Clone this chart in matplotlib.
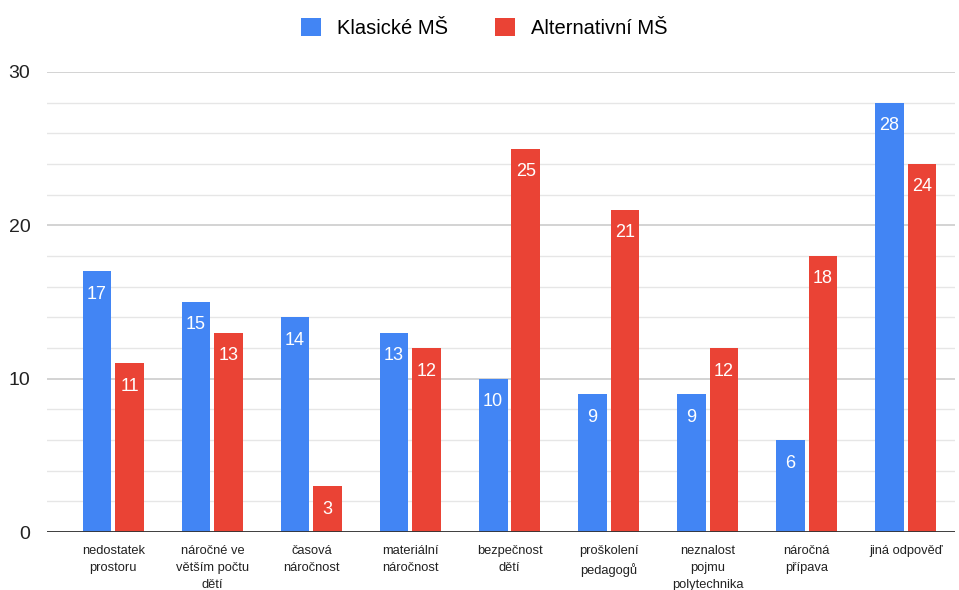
import numpy as np
import matplotlib.pyplot as plt
from matplotlib.ticker import MultipleLocator

plt.rcParams['font.family'] = ['Liberation Sans', 'DejaVu Sans']

categories = ["nedostatek\nprostoru", "náročné ve\nvětším počtu\ndětí", "časová\nnáročnost",
              "materiální\nnáročnost", "bezpečnost\ndětí", "proškolení\npedagogů",
              "neznalost\npojmu\npolytechnika", "náročná\npřípava", "jiná odpověď"]
klasicke = [17, 15, 14, 13, 10, 9, 9, 6, 28]
alternativni = [11, 13, 3, 12, 25, 21, 12, 18, 24]

BLUE = "#4285F4"
RED = "#EA4335"

fig = plt.figure(figsize=(9.59, 5.90), dpi=100)
ax = fig.add_axes([0.049, 0.098, 0.947, 0.78])

x = np.arange(len(categories))
w = 0.29
gap = 0.02
b1 = ax.bar(x - w / 2 - gap, klasicke, w, color=BLUE, label="Klasické MŠ", zorder=3)
b2 = ax.bar(x + w / 2 + gap, alternativni, w, color=RED, label="Alternativní MŠ", zorder=3)

for bars in (b1, b2):
    for r in bars:
        ax.annotate(f"{int(r.get_height())}", (r.get_x() + r.get_width() / 2, r.get_height()),
                    xytext=(0, -16.5), textcoords="offset points", ha="center", va="center",
                    color="white", fontsize=13, zorder=4)

ax.set_xlim(-0.67, len(categories) - 0.5)
ax.set_ylim(0, 30)
ax.yaxis.set_major_locator(MultipleLocator(10))
ax.yaxis.set_minor_locator(MultipleLocator(2))
ax.grid(axis="y", which="major", color="#cccccc", linewidth=1.2, zorder=0)
ax.grid(axis="y", which="minor", color="#e6e6e6", linewidth=1.0, zorder=0)
ax.axhline(0, color="#333333", linewidth=1.3, zorder=5)

for s in ax.spines.values():
    s.set_visible(False)
ax.tick_params(axis="y", which="both", length=0, labelsize=14, pad=12, labelcolor="#222222")
ax.tick_params(axis="x", length=0, pad=9)
ax.set_xticks(x)
ax.set_xticklabels(categories, fontsize=9.3, linespacing=1.55, color="#222222", va="top")

fig.legend(loc="upper center", bbox_to_anchor=(0.505, 1.0), ncol=2, frameon=False,
           fontsize=14.5, handlelength=1.0, handleheight=1.0, columnspacing=2.3, handletextpad=0.8)

fig.savefig("out.png", dpi=100)
